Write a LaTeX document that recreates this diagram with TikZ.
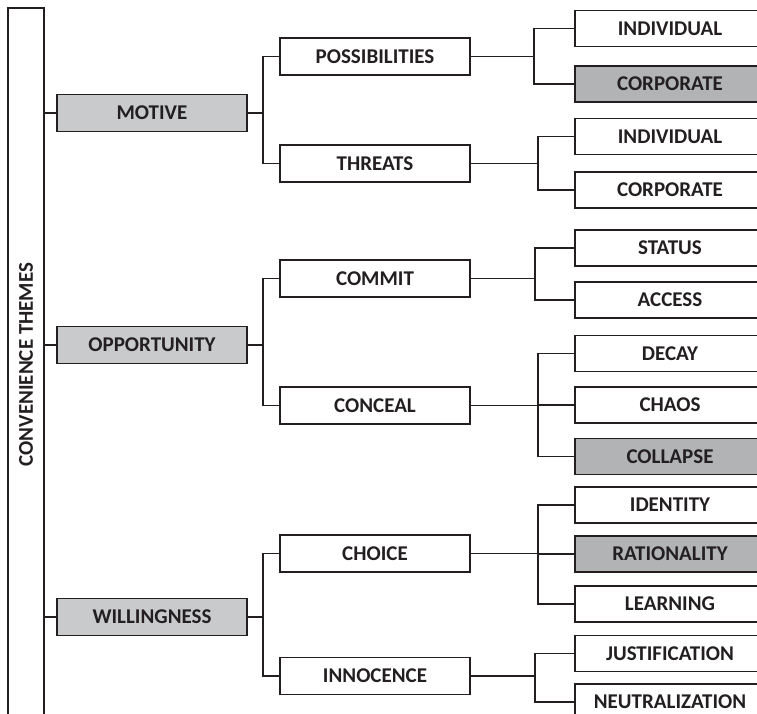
\documentclass[tikz,border=0pt]{standalone}
\usepackage{fontspec}
\setmainfont{Carlito}
\newcommand{\BW}{190pt}
\newcommand{\BH}{37pt}
\newcommand{\XA}{152}
\newcommand{\XB}{375}
\newcommand{\XC}{670}
\definecolor{cvline}{RGB}{35,31,32}
\definecolor{cvlight}{RGB}{201,202,204}
\definecolor{cvdark}{RGB}{177,179,181}

\begin{document}
\begin{tikzpicture}[
    x=1pt, y=-1pt,
    line/.style={draw=cvline, line width=1.6pt},
    box/.style={rectangle, draw=cvline, line width=1.8pt, minimum width=\BW, minimum height=\BH,
      inner sep=0pt, text=cvline, font=\bfseries\fontsize{21}{24}\selectfont},
    theme/.style={box, fill=cvlight},
    leaf/.style={box, minimum height=36pt},
    hot/.style={leaf, fill=cvdark},
  ]
  \useasboundingbox (0,0) rectangle (757,714);
  \clip (0,0) rectangle (757,714);

  %% ================= the theme column =================
  \node[box, rotate=90, minimum width=713pt, minimum height=36pt] (cvt) at (26,364.5) {CONVENIENCE THEMES};

  %% ================= level 1 =================
  \node[theme] (motive) at (\XA,113) {MOTIVE};
  \node[theme] (opp)    at (\XA,345) {OPPORTUNITY};
  \node[theme] (will)   at (\XA,617) {WILLINGNESS};
  % the rotated column has its south side on the right
  \foreach \t in {motive,opp,will} { \draw[line] (\t.west) -- (\t.west -| cvt.south); }

  %% ================= level 2 =================
  \node[box] (poss)    at (\XB,56.5)  {POSSIBILITIES};
  \node[box] (threat)  at (\XB,163.5) {THREATS};
  \node[box] (commit)  at (\XB,278.5) {COMMIT};
  \node[box] (conceal) at (\XB,405.5) {CONCEAL};
  \node[box] (choice)  at (\XB,553.5) {CHOICE};
  \node[box] (innoc)   at (\XB,676)   {INNOCENCE};

  \foreach \p/\a/\b in {motive/poss/threat, opp/commit/conceal, will/choice/innoc} {
    \draw[line] (\p.east) -- ++(15,0) coordinate (\p-x);
    \draw[line] (\a.west) -| (\p-x) |- (\b.west);
  }

  %% ================= level 3 =================
  \foreach \n/\y/\s/\t in {ind1/28.5/leaf/INDIVIDUAL, corp1/84/hot/CORPORATE,
      ind2/136.5/leaf/INDIVIDUAL, corp2/190/leaf/CORPORATE,
      status/248/leaf/STATUS, access/300/leaf/ACCESS,
      decay/353.5/leaf/DECAY, chaos/405/leaf/CHAOS, collapse/456.5/hot/COLLAPSE,
      ident/505/leaf/IDENTITY, ratio/554/hot/RATIONALITY, learn/604/leaf/LEARNING,
      just/653.5/leaf/JUSTIFICATION, neutr/702/leaf/NEUTRALIZATION} {
    \node[\s] (\n) at (\XC,\y) {\t};
  }

  \foreach \p/\d/\a/\b in {poss/63/ind1/corp1, threat/67/ind2/corp2, commit/64/status/access,
      conceal/67/decay/collapse, choice/67/ident/learn, innoc/64/just/neutr} {
    \draw[line] (\p.east) -- ++(\d,0) coordinate (\p-x);
    \draw[line] (\a.west) -| (\p-x) |- (\b.west);
  }
  % middle branches of the three-way brackets
  \foreach \p/\c in {conceal/chaos, choice/ratio} { \draw[line] (\c.west) -- (\c.west -| \p-x); }

\end{tikzpicture}
\end{document}
